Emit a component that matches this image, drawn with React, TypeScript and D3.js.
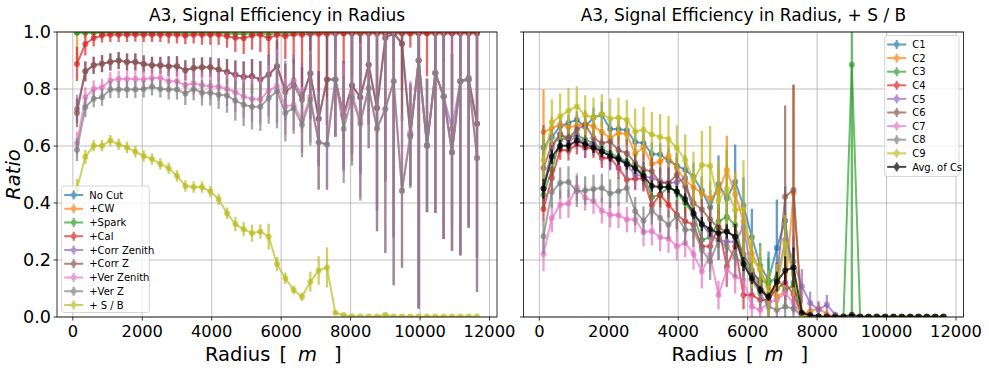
import React from "react";
import * as d3 from "d3";

// ---------- DATA ----------
const radius = [
  120, 360, 600, 840, 1080, 1320, 1560, 1800, 2040, 2280,
  2520, 2760, 3000, 3240, 3480, 3720, 3960, 4200, 4440, 4680,
  4920, 5160, 5400, 5640, 5880, 6120, 6360, 6600, 6840, 7080,
  7320, 7560, 7800, 8040, 8280, 8520, 8760, 9000, 9240, 9480,
  9720, 9960, 10200, 10440, 10680, 10920, 11160, 11400, 11640,
];
const xTicks = [0, 2000, 4000, 6000, 8000, 10000, 12000];
const yTicks = [0, 0.2, 0.4, 0.6, 0.8, 1.0];

// Left panel
const noCut = [
  1, 1, 1, 1, 1, 1, 1, 1, 1, 1,
  1, 1, 1, 1, 1, 1, 1, 1, 1, 1,
  1, 1, 1, 1, 1, 1, 1, 1, 1, 1,
  1, 1, 1, 1, 1, 1, 1, 1, 1, 1,
  1, 1, 1, 1, 1, 1, 1, 1, 1,
];
const noCutErr = [
  0, 0, 0, 0, 0, 0, 0, 0, 0, 0,
  0, 0, 0, 0, 0, 0, 0, 0, 0, 0,
  0, 0, 0, 0, 0, 0, 0, 0, 0, 0,
  0, 0, 0, 0, 0, 0, 0, 0, 0, 0,
  0, 0, 0, 0, 0, 0, 0, 0, 0,
];
const cw = [
  1, 1, 1, 1, 1, 1, 1, 1, 1, 1,
  1, 1, 1, 1, 1, 1, 1, 1, 1, 1,
  1, 1, 1, 1, 1, 1, 1, 1, 1, 1,
  1, 1, 1, 1, 1, 1, 1, 1, 1, 1,
  1, 1, 1, 1, 1, 1, 1, 1, 1,
];
const cwErr = [
  0.1, 0.02, 0, 0, 0, 0, 0, 0, 0, 0,
  0, 0, 0, 0, 0, 0, 0, 0, 0, 0,
  0, 0, 0, 0, 0, 0, 0, 0, 0, 0,
  0, 0, 0, 0, 0, 0, 0, 0, 0, 0,
  0, 0, 0, 0, 0, 0, 0, 0, 0,
];
const spark = [
  0.997, 0.997, 0.997, 0.997, 0.997, 0.997, 0.997, 0.997, 0.997, 0.997,
  0.997, 0.997, 0.997, 0.995, 0.997, 0.997, 0.995, 0.997, 0.995, 0.993,
  0.993, 0.995, 0.997, 0.99, 0.997, 0.995, 0.997, 0.997, 0.997, 0.997,
  0.997, 0.997, 0.997, 0.997, 0.997, 0.997, 0.997, 0.997, 0.997, 0.997,
  0.997, 0.997, 0.997, 0.997, 0.997, 0.997, 0.997, 0.997, 0.997,
];
const sparkErr = [
  0.01, 0.005, 0.005, 0.005, 0.005, 0.005, 0.005, 0.005, 0.005, 0.005,
  0.005, 0.005, 0.005, 0.005, 0.005, 0.005, 0.005, 0.005, 0.01, 0.01,
  0.01, 0.01, 0.01, 0.01, 0.01, 0.01, 0.01, 0.01, 0.01, 0.01,
  0.01, 0.01, 0.01, 0.01, 0.01, 0.01, 0.01, 0.01, 0.01, 0.01,
  0.01, 0.01, 0.01, 0.01, 0.01, 0.01, 0.01, 0.01, 0.01,
];
const cal = [
  0.888, 0.958, 0.979, 0.988, 0.99, 0.99, 0.99, 0.991, 0.99, 0.99,
  0.99, 0.99, 0.99, 0.987, 0.99, 0.99, 0.99, 0.99, 0.985, 0.98,
  0.978, 0.988, 0.99, 0.978, 0.99, 0.985, 0.992, 0.99, 0.993, 0.993,
  0.993, 0.995, 0.995, 0.995, 0.995, 0.995, 0.995, 0.995, 0.995, 0.995,
  0.995, 0.995, 0.995, 0.995, 0.995, 0.995, 0.995, 0.995, 0.995,
];
const calErr = [
  0.06, 0.04, 0.03, 0.025, 0.025, 0.025, 0.025, 0.025, 0.025, 0.025,
  0.025, 0.03, 0.03, 0.03, 0.03, 0.035, 0.035, 0.035, 0.04, 0.05,
  0.055, 0.05, 0.06, 0.06, 0.07, 0.08, 0.1, 0.22, 0.12, 0.2,
  0.22, 0.08, 0.25, 0.15, 0.3, 0.1, 0.35, 0.06, 0.1, 0.2,
  0.05, 0.3, 0.15, 0.2, 0.1, 0.25, 0.15, 0.2, 0.3,
];
const corrZenith = [
  0.73, 0.862, 0.883, 0.889, 0.895, 0.9, 0.895, 0.895, 0.888, 0.883,
  0.883, 0.88, 0.88, 0.866, 0.874, 0.876, 0.876, 0.868, 0.86, 0.85,
  0.842, 0.845, 0.833, 0.85, 0.88, 0.8, 0.83, 0.775, 0.854, 0.696,
  0.833, 0.833, 0.708, 0.812, 0.771, 0.885, 0.733, 0.979, 0.996, 0.959,
  0.64, 0.9, 0.602, 0.856, 0.774, 0.66, 0.827, 0.84, 0.678,
];
const corrZ = [
  0.716, 0.862, 0.883, 0.889, 0.895, 0.9, 0.895, 0.895, 0.888, 0.883,
  0.883, 0.88, 0.88, 0.866, 0.874, 0.876, 0.876, 0.868, 0.86, 0.85,
  0.842, 0.845, 0.833, 0.85, 0.88, 0.789, 0.813, 0.762, 0.854, 0.696,
  0.833, 0.833, 0.708, 0.812, 0.771, 0.885, 0.733, 0.979, 0.996, 0.959,
  0.64, 0.9, 0.602, 0.856, 0.774, 0.578, 0.827, 0.833, 0.678,
];
const corrErr = [
  0.05, 0.035, 0.03, 0.03, 0.03, 0.03, 0.03, 0.03, 0.03, 0.03,
  0.03, 0.035, 0.035, 0.035, 0.035, 0.035, 0.035, 0.04, 0.045, 0.05,
  0.055, 0.06, 0.065, 0.07, 0.09, 0.1, 0.09, 0.115, 0.16, 0.166,
  0.158, 0.2, 0.19, 0.24, 0.27, 0.21, 0.36, 0.505, 0.716, 0.27,
  0.18, 0.87, 0.234, 0.49, 0.5, 0.345, 0.61, 0.52, 0.47,
];
const verZenith = [
  0.61, 0.771, 0.8, 0.806, 0.83, 0.835, 0.835, 0.835, 0.833, 0.839,
  0.839, 0.827, 0.827, 0.813, 0.82, 0.813, 0.81, 0.808, 0.8, 0.789,
  0.774, 0.765, 0.763, 0.794, 0.81, 0.739, 0.745, 0.692, 0.774, 0.613,
  0.605, 0.833, 0.7, 0.786, 0.69, 0.8, 0.661, 0.73, 0.827, 0.443,
  0.649, 0.9, 0.602, 0.856, 0.774, 0.578, 0.827, 0.833, 0.558,
];
const verZ = [
  0.587, 0.736, 0.766, 0.771, 0.798, 0.798, 0.798, 0.798, 0.8, 0.808,
  0.8, 0.798, 0.798, 0.784, 0.8, 0.787, 0.787, 0.78, 0.777, 0.759,
  0.745, 0.738, 0.738, 0.768, 0.792, 0.716, 0.733, 0.675, 0.762, 0.613,
  0.605, 0.833, 0.66, 0.771, 0.678, 0.804, 0.661, 0.73, 0.827, 0.443,
  0.632, 0.9, 0.602, 0.856, 0.774, 0.578, 0.827, 0.833, 0.558,
];
const verErr = [
  0.04, 0.035, 0.03, 0.03, 0.03, 0.03, 0.03, 0.03, 0.03, 0.03,
  0.03, 0.035, 0.035, 0.04, 0.04, 0.045, 0.045, 0.05, 0.06, 0.07,
  0.075, 0.08, 0.085, 0.09, 0.13, 0.1, 0.09, 0.115, 0.16, 0.166,
  0.158, 0.2, 0.19, 0.24, 0.27, 0.21, 0.36, 0.505, 0.716, 0.27,
  0.18, 0.87, 0.234, 0.49, 0.5, 0.345, 0.61, 0.52, 0.47,
];
// + S / B (identical to the average of the Cs on the right)
const sOverB = [
  0.45, 0.562, 0.601, 0.601, 0.619, 0.606, 0.595, 0.58, 0.565, 0.554,
  0.537, 0.522, 0.495, 0.46, 0.456, 0.456, 0.44, 0.413, 0.364, 0.326,
  0.308, 0.294, 0.3, 0.282, 0.186, 0.136, 0.095, 0.071, 0.124, 0.163,
  0.174, 0.015, 0.007, 0.003, 0.002, 0.002, 0.002, 0.008, 0.002, 0.002,
  0.002, 0.002, 0.002, 0.002, 0.002, 0.002, 0.002, 0.002, 0.002,
];
const sOverBErr = [
  0.035, 0.025, 0.02, 0.02, 0.02, 0.02, 0.02, 0.02, 0.02, 0.02,
  0.02, 0.02, 0.02, 0.02, 0.02, 0.02, 0.02, 0.02, 0.02, 0.025,
  0.025, 0.03, 0.025, 0.045, 0.025, 0.02, 0.015, 0.015, 0.035, 0.05,
  0.07, 0.005, 0.003, 0.002, 0.001, 0.001, 0.001, 0.003, 0.001, 0.001,
  0.001, 0.001, 0.001, 0.001, 0.001, 0.001, 0.001, 0.001, 0.001,
];

// Right panel
const c1 = [
  0.595, 0.632, 0.669, 0.681, 0.692, 0.667, 0.7, 0.71, 0.66, 0.66,
  0.655, 0.614, 0.61, 0.572, 0.57, 0.549, 0.531, 0.517, 0.491, 0.444,
  0.385, 0.467, 0.416, 0.475, 0.39, 0.28, 0.18, 0.13, 0.242, 0.338,
  0.12, 0.01, 0.005, 0, 0, 0, 0, 0, 0, 0,
  0, 0, 0, 0, 0, 0, 0, 0, 0,
];
const c1Err = [
  0.03, 0.03, 0.03, 0.03, 0.03, 0.03, 0.035, 0.045, 0.035, 0.035,
  0.035, 0.04, 0.04, 0.04, 0.04, 0.045, 0.045, 0.05, 0.05, 0.05,
  0.06, 0.1, 0.17, 0.13, 0.1, 0.1, 0.08, 0.1, 0.17, 0.12,
  0.1, 0.01, 0.005, 0, 0, 0, 0, 0, 0, 0,
  0, 0, 0, 0, 0, 0, 0, 0, 0,
];
const c2 = [
  0.649, 0.663, 0.675, 0.666, 0.671, 0.677, 0.669, 0.649, 0.628, 0.646,
  0.642, 0.573, 0.595, 0.537, 0.546, 0.565, 0.522, 0.48, 0.455, 0.434,
  0.416, 0.44, 0.516, 0.43, 0.335, 0.223, 0.165, 0.106, 0.071, 0.09,
  0.434, 0.01, 0.02, 0.03, 0.01, 0, 0, 0, 0, 0,
  0, 0, 0, 0, 0, 0, 0, 0, 0,
];
const c2Err = [
  0.15, 0.04, 0.035, 0.035, 0.035, 0.035, 0.035, 0.035, 0.04, 0.04,
  0.04, 0.045, 0.045, 0.045, 0.045, 0.05, 0.05, 0.05, 0.05, 0.05,
  0.06, 0.08, 0.12, 0.08, 0.07, 0.06, 0.05, 0.05, 0.05, 0.06,
  0.38, 0.01, 0.02, 0.02, 0.01, 0, 0, 0, 0, 0,
  0, 0, 0, 0, 0, 0, 0, 0, 0,
];
const c3 = [
  0.429, 0.517, 0.622, 0.628, 0.64, 0.622, 0.61, 0.59, 0.575, 0.56,
  0.545, 0.525, 0.5, 0.42, 0.43, 0.455, 0.44, 0.4, 0.36, 0.27,
  0.28, 0.335, 0.352, 0.323, 0.2, 0.153, 0.13, 0.118, 0.14, 0.095,
  0.11, 0.005, 0, 0, 0, 0, 0, 0.885, 0, 0,
  0, 0, 0, 0, 0, 0, 0, 0, 0,
];
const c3Err = [
  0.04, 0.04, 0.035, 0.035, 0.035, 0.035, 0.035, 0.035, 0.04, 0.04,
  0.04, 0.045, 0.045, 0.045, 0.045, 0.05, 0.05, 0.05, 0.05, 0.05,
  0.06, 0.06, 0.06, 0.06, 0.06, 0.05, 0.08, 0.09, 0.05, 0.05,
  0.05, 0.005, 0, 0, 0, 0, 0, 0.9, 0, 0,
  0, 0, 0, 0, 0, 0, 0, 0, 0,
];
const c4 = [
  0.379, 0.488, 0.587, 0.584, 0.605, 0.593, 0.593, 0.558, 0.558, 0.523,
  0.482, 0.485, 0.485, 0.392, 0.429, 0.394, 0.359, 0.336, 0.324, 0.247,
  0.248, 0.317, 0.177, 0.247, 0.077, 0.077, 0.06, 0.06, 0.1, 0.12,
  0.08, 0.005, 0, 0, 0, 0, 0, 0, 0, 0,
  0, 0, 0, 0, 0, 0, 0, 0, 0,
];
const c4Err = [
  0.04, 0.04, 0.035, 0.035, 0.035, 0.035, 0.035, 0.035, 0.04, 0.04,
  0.04, 0.04, 0.045, 0.045, 0.045, 0.045, 0.05, 0.05, 0.05, 0.05,
  0.06, 0.06, 0.07, 0.07, 0.05, 0.04, 0.04, 0.04, 0.05, 0.06,
  0.06, 0.005, 0, 0, 0, 0, 0, 0, 0, 0,
  0, 0, 0, 0, 0, 0, 0, 0, 0,
];
const c5 = [
  0.453, 0.593, 0.642, 0.616, 0.634, 0.605, 0.61, 0.581, 0.564, 0.552,
  0.535, 0.499, 0.494, 0.488, 0.476, 0.47, 0.473, 0.488, 0.359, 0.324,
  0.29, 0.27, 0.264, 0.264, 0.317, 0.15, 0.106, 0.054, 0.12, 0.271,
  0.195, 0.108, 0.049, 0.026, 0.043, 0.008, 0, 0, 0, 0,
  0, 0, 0, 0, 0, 0, 0, 0, 0,
];
const c5Err = [
  0.05, 0.05, 0.045, 0.045, 0.045, 0.045, 0.045, 0.045, 0.05, 0.05,
  0.05, 0.05, 0.05, 0.05, 0.05, 0.05, 0.05, 0.055, 0.06, 0.06,
  0.06, 0.07, 0.07, 0.07, 0.09, 0.06, 0.05, 0.04, 0.06, 0.1,
  0.09, 0.06, 0.04, 0.03, 0.035, 0.01, 0, 0, 0, 0,
  0, 0, 0, 0, 0, 0, 0, 0, 0,
];
const c6 = [
  0.523, 0.605, 0.64, 0.628, 0.657, 0.675, 0.628, 0.61, 0.616, 0.585,
  0.575, 0.54, 0.517, 0.511, 0.47, 0.47, 0.499, 0.458, 0.4, 0.377,
  0.342, 0.312, 0.3, 0.28, 0.22, 0.165, 0.12, 0.054, 0.13, 0.422,
  0.446, 0.01, 0, 0, 0, 0, 0, 0, 0, 0,
  0, 0, 0, 0, 0, 0, 0, 0, 0,
];
const c6Err = [
  0.15, 0.06, 0.05, 0.05, 0.05, 0.05, 0.05, 0.05, 0.05, 0.05,
  0.05, 0.05, 0.055, 0.055, 0.055, 0.055, 0.06, 0.06, 0.06, 0.06,
  0.07, 0.07, 0.08, 0.08, 0.08, 0.07, 0.06, 0.05, 0.06, 0.32,
  0.37, 0.01, 0, 0, 0, 0, 0, 0, 0, 0,
  0, 0, 0, 0, 0, 0, 0, 0, 0,
];
const c7 = [
  0.221, 0.347, 0.394, 0.398, 0.455, 0.418, 0.406, 0.373, 0.359, 0.357,
  0.342, 0.342, 0.298, 0.301, 0.28, 0.275, 0.248, 0.26, 0.221, 0.16,
  0.219, 0.077, 0.165, 0.142, 0.13, 0.036, 0.025, 0.05, 0.06, 0.083,
  0.05, 0.005, 0, 0, 0, 0, 0, 0, 0, 0,
  0, 0, 0, 0, 0, 0, 0, 0, 0,
];
const c7Err = [
  0.06, 0.05, 0.05, 0.05, 0.05, 0.045, 0.045, 0.045, 0.045, 0.045,
  0.045, 0.045, 0.05, 0.05, 0.05, 0.05, 0.05, 0.05, 0.055, 0.06,
  0.06, 0.05, 0.06, 0.06, 0.06, 0.04, 0.03, 0.04, 0.04, 0.05,
  0.04, 0.005, 0, 0, 0, 0, 0, 0, 0, 0,
  0, 0, 0, 0, 0, 0, 0, 0, 0,
];
const c8 = [
  0.283, 0.439, 0.47, 0.474, 0.441, 0.444, 0.449, 0.453, 0.433, 0.441,
  0.453, 0.371, 0.338, 0.374, 0.347, 0.324, 0.353, 0.306, 0.306, 0.236,
  0.195, 0.27, 0.247, 0.21, 0.188, 0.13, 0.083, 0.036, 0.025, 0.036,
  0.03, 0.003, 0, 0, 0, 0, 0, 0, 0, 0,
  0, 0, 0, 0, 0, 0, 0, 0, 0,
];
const c8Err = [
  0.06, 0.055, 0.055, 0.055, 0.055, 0.05, 0.05, 0.05, 0.05, 0.05,
  0.05, 0.05, 0.05, 0.05, 0.05, 0.05, 0.055, 0.055, 0.06, 0.06,
  0.065, 0.07, 0.07, 0.07, 0.06, 0.05, 0.05, 0.04, 0.03, 0.04,
  0.03, 0.003, 0, 0, 0, 0, 0, 0, 0, 0,
  0, 0, 0, 0, 0, 0, 0, 0, 0,
];
const c9 = [
  0.55, 0.683, 0.704, 0.724, 0.739, 0.708, 0.7, 0.712, 0.696, 0.7,
  0.692, 0.651, 0.657, 0.64, 0.632, 0.625, 0.593, 0.551, 0.48, 0.533,
  0.53, 0.41, 0.45, 0.375, 0.38, 0.2, 0.17, 0.083, 0.106, 0.258,
  0.153, 0.007, 0, 0, 0, 0, 0, 0, 0, 0,
  0, 0, 0, 0, 0, 0, 0, 0, 0,
];
const c9Err = [
  0.09, 0.08, 0.08, 0.08, 0.07, 0.07, 0.07, 0.07, 0.07, 0.07,
  0.07, 0.08, 0.08, 0.08, 0.08, 0.08, 0.08, 0.09, 0.1, 0.12,
  0.14, 0.14, 0.15, 0.13, 0.17, 0.1, 0.08, 0.08, 0.08, 0.1,
  0.08, 0.007, 0, 0, 0, 0, 0, 0, 0, 0,
  0, 0, 0, 0, 0, 0, 0, 0, 0,
];

const leftNames = ["No Cut", "+CW", "+Spark", "+Cal", "+Corr Zenith", "+Corr Z", "+Ver Zenith", "+Ver Z", "+ S / B"];
const rightNames = ["C1", "C2", "C3", "C4", "C5", "C6", "C7", "C8", "C9", "Avg. of Cs"];
const palette = ["#1f77b4", "#ff7f0e", "#2ca02c", "#d62728", "#9467bd", "#8c564b", "#e377c2", "#7f7f7f", "#bcbd22", "#000000"];

type Series = { name: string; color: string; values: number[]; errs: number[] };

const leftSeries: Series[] = [
  [noCut, noCutErr], [cw, cwErr], [spark, sparkErr], [cal, calErr],
  [corrZenith, corrErr], [corrZ, corrErr], [verZenith, verErr], [verZ, verErr], [sOverB, sOverBErr],
].map(([v, e], i) => ({ name: leftNames[i], color: palette[i], values: v as number[], errs: e as number[] }));

const rightSeries: Series[] = [
  [c1, c1Err], [c2, c2Err], [c3, c3Err], [c4, c4Err], [c5, c5Err],
  [c6, c6Err], [c7, c7Err], [c8, c8Err], [c9, c9Err], [sOverB, sOverBErr],
].map(([v, e], i) => ({ name: rightNames[i], color: palette[i], values: v as number[], errs: e as number[] }));

// ---------- LAYOUT ----------
const W = 989;
const H = 375;
const TOP = 32;
const BOTTOM = 317;
const FONT = "'DejaVu Sans', sans-serif";

type PanelProps = {
  id: string;
  x0: number;
  x1: number;
  title: string;
  series: Series[];
  yLabels: boolean;
  legend: { x: number; y: number; w: number; h: number; rowH: number };
};

function Panel({ id, x0, x1, title, series, yLabels, legend }: PanelProps) {
  const x = d3.scaleLinear().domain([-456, 12216]).range([x0, x1]);
  const y = d3.scaleLinear().domain([0, 1]).range([BOTTOM, TOP]);
  const line = d3
    .line<number>()
    .x((_, i) => x(radius[i]))
    .y((d) => y(d));
  const cx = (x0 + x1) / 2;
  const alpha = 0.7;
  return (
    <g>
      <defs>
        <clipPath id={`clip-${id}`}>
          <rect x={x0} y={TOP} width={x1 - x0} height={BOTTOM - TOP} />
        </clipPath>
      </defs>
      {/* grid */}
      <g stroke="#b0b0b0" strokeWidth={0.8}>
        {xTicks.map((t) => (
          <line key={`gx${t}`} x1={x(t)} x2={x(t)} y1={TOP} y2={BOTTOM} />
        ))}
        {yTicks.map((t) => (
          <line key={`gy${t}`} x1={x0} x2={x1} y1={y(t)} y2={y(t)} />
        ))}
      </g>
      {/* data */}
      <g clipPath={`url(#clip-${id})`}>
        {series.map((s) => (
          <g key={s.name}>
            <g stroke={s.color} strokeWidth={2.3} opacity={alpha}>
              {s.values.map((v, i) =>
                s.errs[i] > 0 ? (
                  <line key={i} x1={x(radius[i])} x2={x(radius[i])} y1={y(v - s.errs[i])} y2={y(v + s.errs[i])} />
                ) : null
              )}
            </g>
            <path d={line(s.values) || ""} fill="none" stroke={s.color} strokeWidth={2} opacity={alpha} strokeLinejoin="round" />
            <g fill={s.color} opacity={alpha}>
              {s.values.map((v, i) => (
                <circle key={i} cx={x(radius[i])} cy={y(v)} r={3} />
              ))}
            </g>
          </g>
        ))}
      </g>
      {/* spines */}
      <rect x={x0} y={TOP} width={x1 - x0} height={BOTTOM - TOP} fill="none" stroke="#000" strokeWidth={0.8} />
      {/* x ticks */}
      {xTicks.map((t) => (
        <g key={`xt${t}`}>
          <line x1={x(t)} x2={x(t)} y1={BOTTOM} y2={BOTTOM + 3.5} stroke="#000" strokeWidth={0.8} />
          <text x={x(t)} y={BOTTOM + 19.5} textAnchor="middle" fontFamily={FONT} fontSize={16.3} fill="#000">
            {t}
          </text>
        </g>
      ))}
      {/* y ticks */}
      {yTicks.map((t) => (
        <g key={`yt${t}`}>
          <line x1={x0 - 3.5} x2={x0} y1={y(t)} y2={y(t)} stroke="#000" strokeWidth={0.8} />
          {yLabels ? (
            <text x={x0 - 6} y={y(t) + 6.3} textAnchor="end" fontFamily={FONT} fontSize={17.6} fill="#000">
              {t.toFixed(1)}
            </text>
          ) : null}
        </g>
      ))}
      {/* title */}
      <text x={cx} y={21} textAnchor="middle" fontFamily={FONT} fontSize={17} fill="#000">
        {title}
      </text>
      {/* x label */}
      <text x={cx - 72} y={361} fontFamily={FONT} fontSize={19.5} fill="#000">
        <tspan>Radius</tspan>
        <tspan dx={9}>[</tspan>
        <tspan dx={11} fontStyle="italic">m</tspan>
        <tspan dx={17}>]</tspan>
      </text>
      {/* legend */}
      <g>
        <rect
          x={legend.x}
          y={legend.y}
          width={legend.w}
          height={legend.h}
          rx={2.5}
          fill="#fff"
          fillOpacity={0.8}
          stroke="#cccccc"
          strokeWidth={0.8}
        />
        {series.map((s, i) => {
          const ly = legend.y + 9 + i * legend.rowH;
          const hx = legend.x + 2.5;
          return (
            <g key={`lg${s.name}`} opacity={alpha}>
              <line x1={hx} x2={hx + 19} y1={ly} y2={ly} stroke={s.color} strokeWidth={2} />
              <line x1={hx + 9.5} x2={hx + 9.5} y1={ly - 4.5} y2={ly + 4.5} stroke={s.color} strokeWidth={2} />
              <circle cx={hx + 9.5} cy={ly} r={2.8} fill={s.color} />
            </g>
          );
        })}
        {series.map((s, i) => {
          const ly = legend.y + 9 + i * legend.rowH;
          return (
            <text key={`lt${s.name}`} x={legend.x + 27.5} y={ly + 3.6} fontFamily={FONT} fontSize={10} fill="#000">
              {s.name}
            </text>
          );
        })}
      </g>
    </g>
  );
}

export default function App() {
  return (
    <svg width={W} height={H} viewBox={`0 0 ${W} ${H}`} style={{ display: "block", position: "absolute", left: 0, top: 0, background: "#fff" }}>
      <rect x={0} y={0} width={W} height={H} fill="#fff" />
      <Panel
        id="left"
        x0={57}
        x1={497}
        title="A3, Signal Efficiency in Radius"
        series={leftSeries}
        yLabels={true}
        legend={{ x: 61.7, y: 186, w: 87.6, h: 126.5, rowH: 13.75 }}
      />
      <Panel
        id="right"
        x0={523.5}
        x1={963.5}
        title="A3, Signal Efficiency in Radius, + S / B"
        series={rightSeries}
        yLabels={false}
        legend={{ x: 884.7, y: 35.5, w: 74.3, h: 141, rowH: 13.6 }}
      />
      <text
        transform="translate(19.5,174.5) rotate(-90)"
        textAnchor="middle"
        fontFamily={FONT}
        fontSize={19.5}
        fontStyle="italic"
        fill="#000"
      >
        Ratio
      </text>
    </svg>
  );
}
